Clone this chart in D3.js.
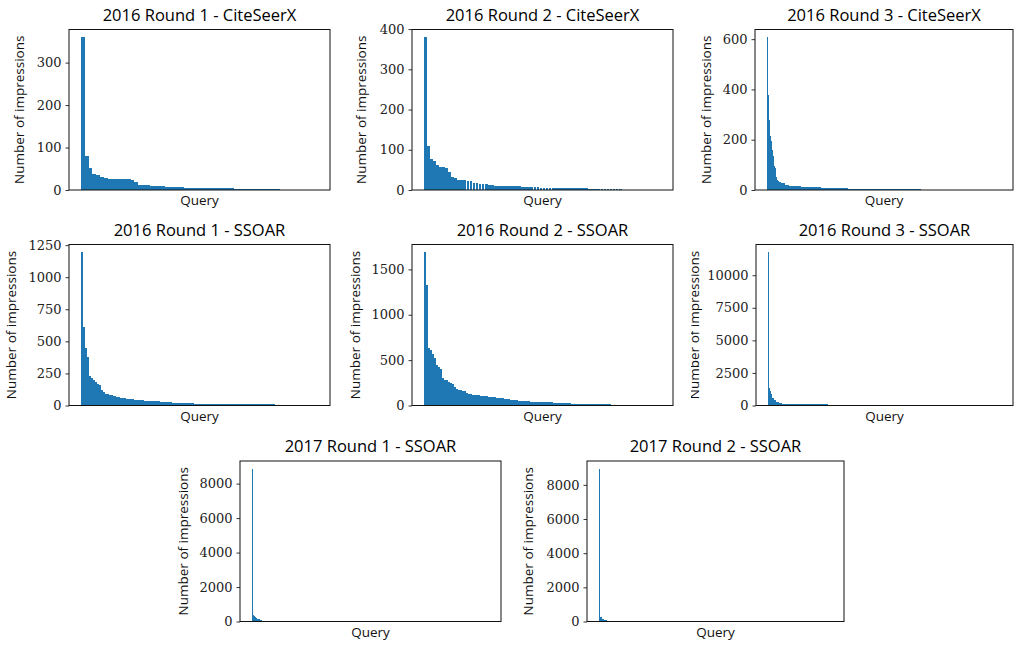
<!DOCTYPE html>
<html>
<head>
<meta charset="utf-8">
<script src="https://cdn.jsdelivr.net/npm/d3@7"></script>
<style>
  body { margin: 0; background: #fff; }
  svg { display: block; }
</style>
</head>
<body>
<svg width="1019" height="646"></svg>
<script>
// impressions per query, sorted

const r1CiteSeerX = [
  360,80,52,38,36,30,28,
  26,26,26,26,26,26,
  24,19,
  12,12,12,
  10,10,10,10,
  8,8,8,8,8,
  5,5,5,5,5,5,5,5,5,5,5,5,5,
  3,3,3,3,3,3,3,3,3,3,3,3,
  1,1,1,1,1,1,1,1,1,1
];

const r2CiteSeerX = [
  380,110,77,72,62,57,57,55,45,32,30,
  25,25,25,22,22,17,17,15,15,15,12,12,
  10,10,10,10,10,10,10,10,10,
  8,8,8,8,8,8,
  5,5,5,5,5,5,5,5,5,5,5,5,5,5,5,5,
  3,3,3,3,3,3,3,3,3,3,3,
  1,1,1,1,1,1,1,1,1,1,1,1,1
];

const r3CiteSeerX = [
  608,377,277,214,194,159,135,95,87,52,40,36,
  32,32,
  28,28,28,28,
  20,20,20,20,
  16,16,16,16,16,16,16,16,16,16,16,16,
  12,12,12,12,12,12,12,12,12,12,
  12,12,12,12,12,12,12,12,12,12,
  8,8,8,8,8,8,8,8,8,8,
  8,8,8,8,8,8,8,8,8,8,
  8,8,8,8,8,8,8,
  4,4,4,4,4,4,4,4,4,4,
  4,4,4,4,4,4,4,4,4,4,
  4,4,4,4,4,4,4,4,4,4,
  4,4,4,4,4,4,
  3,3,3,3,3,3,3,3,3,3,
  3,3,3,3,3,3,3,3,3,3,
  3,3,3,3,3,3,3,3,3,3,
  3,3,3,3,3,3,
  1,1,1,1,1,1,1,1,1,1,
  1,1,1,1,1,1,1,1,1,1,
  1,1,1,1,1,1,1,1,1,1,
  1,1,1,1,1,1,1,1,1,1,
  1,1,1,1,1,1,1,1,1,1,
  1,1,1,1,1,1,1,1,1,1,
  1,1,1,1,1,1,1,1,1,1,
  1,1,1,1,1,1,1,1,1,1
];

const r1SSOAR = [
  1195,614,448,378,231,215,199,184,168,160,122,106,
  91,91,83,83,75,75,67,67,60,60,60,
  52,52,52,52,
  44,44,44,44,44,
  36,36,36,36,36,36,36,36,
  28,28,28,28,28,28,
  21,21,21,21,21,21,21,21,21,21,21,
  15,15,15,15,15,15,15,15,15,15,
  15,15,15,15,15,15,15,15,15,15,
  15,15,15,15,15,15,15,15,15,15,
  15,15,15,15,15,15,15,15,15,15,
  15,
  7,7,7,7,7,7,7,7,7,
  4,4,4,4,4,4,4,4,4,4,4,4,4
];

const r2SSOAR = [
  1690,1327,638,612,565,521,447,429,403,300,
  286,286,264,253,235,209,183,169,169,161,161,136,125,125,
  117,117,117,117,
  110,110,110,110,
  99,99,99,99,
  88,88,88,88,
  77,77,77,
  66,66,66,66,
  55,55,55,55,55,55,
  44,44,44,44,44,44,44,44,44,44,44,
  33,33,33,33,33,33,33,33,33,
  22,22,22,22,22,22,22,22,22,22,
  22,22,22,22,22,22,22,22,22,22,
  11,11,11,11,11,11,11,11,11,11,11,
  6,6,6,6,6,6,6,6,6,6,6,6,6,6
];

const r3SSOAR = [
  11770,1356,1100,895,563,563,384,384,
  281,281,281,281,205,205,205,
  153,153,153,153,153,153,153,153,
  77,77,77,77,77,77,77,77,77,77,
  77,77,77,77,77,77,77,77,77,77,
  77,77,77,77,77,77,77,77,77,77,
  77,77,77,77,77,77,77,77,
  30,30,30,30,30,30,30,30,30,30,
  30,30,30,30,30,30,30,30,30,30,
  30,30,30,30,30,30,30,30,30,30,
  30,30,30,30,30,30,30,30,30,30,
  30,30,30,30,30,30,30,30,30,30,
  30,30,30,30,30,30,30,30,30,30,
  20,20,20,20,20,20,20,20,20,20,
  20,20,20,20,20,20,20,20,20,20,
  20,20,20,20,20,20,20,20,20,20,
  20,20,20,20,20,20,20,20,20,20,
  20,20,20,20,20,20,20,20,20,20,
  20,20,20,20,20,20,20,20,20,20,
  10,10,10,10,10,10,10,10,10,10,
  10,10,10,10,10,10,10,10,10,10,
  10,10,10,10,10,10,10,10,10,10,
  10,10,10,10,10,10,10,10,10,10,
  10,10,10,10,10,10,10,10,10,10,
  10,10,10,10,10,10,10
];

const r1SSOAR2017 = [
  8870,350,340,240,231,160,154,120,80,60,50,
  35,35,35,35,35,35,35,35,35,35,
  35,35,35,35,35,35,35,35,35,35,
  35,35,35,35,35,35,35,35,35,35,
  35,35,35,35,35,35,35,35,35,35,
  35,35,35,35,35,35,35,35,35,35,
  20,20,20,20,20,20,20,20,20,20,
  20,20,20,20,20,20,20,20,20,20,
  20,20,20,20,20,20,20,20,20,20,
  20,20,20,20,20,20,20,20,20,20,
  20,20,20,20,20,20,20,20,20,20,
  20,20,20,20,20,20,20,20,20,20,
  10,10,10,10,10,10,10,10,10,10,
  10,10,10,10,10,10,10,10,10,10,
  10,10,10,10,10,10,10,10,10,10,
  10,10,10,10,10,10,10,10,10,10,
  10,10,10,10,10,10,10,10,10,10,
  10,10,10,10,10,10,10,10,10,10,
  5,5,5,5,5,5,5,5,5,5,
  5,5,5,5,5,5,5,5,5,5,
  5,5,5,5,5,5,5,5,5,5,
  5,5,5,5,5,5,5,5,5,5,
  5,5,5,5,5,5,5,5,5,5,
  5,5,5,5,5,5
];

const r2SSOAR2017 = [
  8950,260,250,140,136,100,95,70,55,45,40,
  30,30,30,30,30,30,30,30,30,30,
  30,30,30,30,30,30,30,30,30,30,
  30,30,30,30,30,30,30,30,30,30,
  30,30,30,30,30,30,30,30,30,30,
  30,30,30,30,30,30,30,30,30,30,
  20,20,20,20,20,20,20,20,20,20,
  20,20,20,20,20,20,20,20,20,20,
  20,20,20,20,20,20,20,20,20,20,
  20,20,20,20,20,20,20,20,20,20,
  20,20,20,20,20,20,20,20,20,20,
  20,20,20,20,20,20,20,20,20,20,
  10,10,10,10,10,10,10,10,10,10,
  10,10,10,10,10,10,10,10,10,10,
  10,10,10,10,10,10,10,10,10,10,
  10,10,10,10,10,10,10,10,10,10,
  10,10,10,10,10,10,10,10,10,10,
  10,10,10,10,10,10,10,10,10,10,
  5,5,5,5,5,5,5,5,5,5,
  5,5,5,5,5,5,5,5,5,5,
  5,5,5,5,5,5,5,5,5,5,
  5,5,5,5,5,5,5,5,5,5,
  5,5,5,5,5,5,5,5,5,5,
  5,5,5,5,5,5
];

const titles = [
  "2016 Round 1 - CiteSeerX", "2016 Round 2 - CiteSeerX", "2016 Round 3 - CiteSeerX",
  "2016 Round 1 - SSOAR", "2016 Round 2 - SSOAR", "2016 Round 3 - SSOAR",
  "2017 Round 1 - SSOAR", "2017 Round 2 - SSOAR"
];
const series = [r1CiteSeerX, r2CiteSeerX, r3CiteSeerX, r1SSOAR, r2SSOAR, r3SSOAR, r1SSOAR2017, r2SSOAR2017];
const yTicks = [
  [0, 100, 200, 300], [0, 100, 200, 300, 400], [0, 200, 400, 600],
  [0, 250, 500, 750, 1000, 1250], [0, 500, 1000, 1500], [0, 2500, 5000, 7500, 10000],
  [0, 2000, 4000, 6000, 8000], [0, 2000, 4000, 6000, 8000]
];

// layout: axes boxes [left, top, right, bottom], ylabel baseline x, bar width
const layout = [
  { box: [69, 29.5, 330, 190], labX: 24, bw: 1 },
  { box: [412, 29.5, 673, 190], labX: 365.5, bw: 0.9 },
  { box: [755, 29.5, 1013, 190], labX: 710.5, bw: 1 },
  { box: [69, 244.5, 330, 405.5], labX: 15.5, bw: 1 },
  { box: [412, 244.5, 673, 405.5], labX: 359.5, bw: 1 },
  { box: [756, 244.5, 1013, 405.5], labX: 699, bw: 1, clipX: 691 },
  { box: [240, 461, 501, 621.5], labX: 187.5, bw: 1 },
  { box: [587, 461, 844, 621.5], labX: 532.5, bw: 1 }
];

const svg = d3.select("svg");
const titleFont = "'Open Sans', sans-serif";
const tickFont = "'DejaVu Serif', serif";
const defs = svg.append("defs");

series.forEach((values, k) => {
  const L = layout[k];
  const [x0, y0, x1, y1] = L.box;
  const n = values.length;
  const bw = L.bw;
  const pad = 0.05 * (n - 1 + bw);

  const x = d3.scaleLinear()
    .domain([-bw / 2 - pad, n - 1 + bw / 2 + pad])
    .range([x0, x1]);
  const y = d3.scaleLinear()
    .domain([0, d3.max(values) * 1.05])
    .range([y1, y0]);

  const g = svg.append("g");

  g.append("g")
    .selectAll("rect")
    .data(values)
    .join("rect")
      .attr("x", (d, i) => x(i - bw / 2))
      .attr("width", x(bw) - x(0))
      .attr("y", d => y(d))
      .attr("height", d => y(0) - y(d))
      .attr("fill", "#1f77b4")
      .attr("shape-rendering", "crispEdges");

  // y axis
  const ax = g.append("g")
    .attr("transform", `translate(${x0},0)`)
    .call(d3.axisLeft(y).tickValues(yTicks[k]).tickFormat(d3.format("d"))
      .tickSize(3.5).tickPadding(4));
  ax.select(".domain").remove();
  ax.selectAll("text")
    .attr("font-family", tickFont)
    .attr("font-size", "13px")
    .attr("fill", "#222");
  ax.selectAll("line").attr("stroke", "#000").attr("stroke-width", 0.8);

  // frame
  g.append("rect")
    .attr("x", x0).attr("y", y0)
    .attr("width", x1 - x0).attr("height", y1 - y0)
    .attr("fill", "none")
    .attr("stroke", "#111")
    .attr("stroke-width", 1);

  // title
  g.append("text")
    .attr("x", (x0 + x1) / 2).attr("y", y0 - 9)
    .attr("text-anchor", "middle")
    .attr("font-family", titleFont)
    .attr("font-size", "16.5px")
    .attr("fill", "#000")
    .text(titles[k]);

  // x label
  g.append("text")
    .attr("x", (x0 + x1) / 2).attr("y", y1 + 15)
    .attr("text-anchor", "middle")
    .attr("font-family", titleFont)
    .attr("font-size", "13.5px")
    .attr("fill", "#111")
    .text("Query");

  // y label (wrapped so a clip can be applied in page coordinates)
  const labWrap = g.append("g");
  labWrap.append("text")
    .attr("transform", `translate(${L.labX},${(y0 + y1) / 2}) rotate(-90)`)
    .attr("text-anchor", "middle")
    .attr("font-family", titleFont)
    .attr("font-size", "13.5px")
    .attr("fill", "#111")
    .text("Number of impressions");

  if (L.clipX) {
    defs.append("clipPath").attr("id", "clip" + k)
      .append("rect")
        .attr("x", L.clipX).attr("y", 0)
        .attr("width", 1019 - L.clipX).attr("height", 646);
    labWrap.attr("clip-path", `url(#clip${k})`);
  }
});
</script>
</body>
</html>
